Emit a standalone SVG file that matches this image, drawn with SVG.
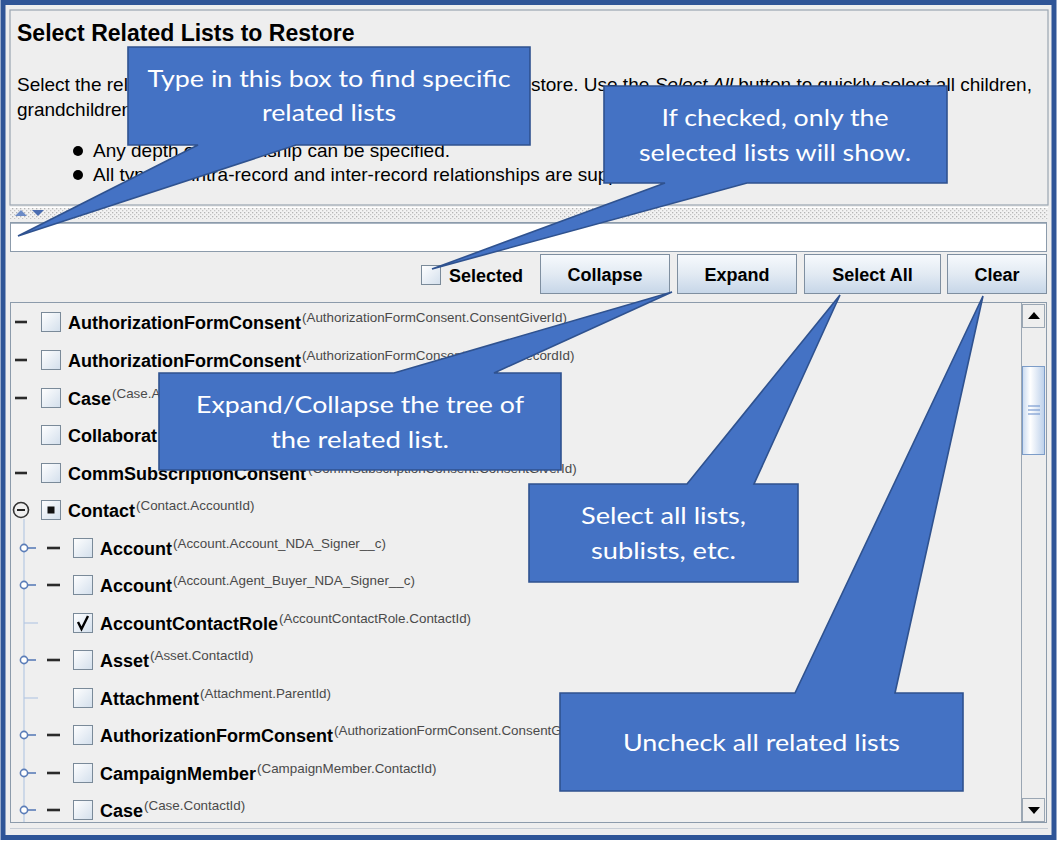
<svg xmlns="http://www.w3.org/2000/svg" xmlns:xlink="http://www.w3.org/1999/xlink" width="1060" height="843" viewBox="0 0 1060 843">
<defs>
<style>
.ui{font-family:"Liberation Sans",Arial,sans-serif;fill:#000}
.title{font-weight:bold;font-size:23px}
.body{font-size:19px}
.lbl{font-weight:bold;font-size:18px}
.sup{font-weight:normal;font-size:13.4px;fill:#4a4a4a}
.btn{fill:url(#btng);stroke:#7F8FA0;stroke-width:1}
.btxt{font-weight:bold;font-size:18px;text-anchor:middle}
.dash{stroke:#2a2a2a;stroke-width:2.6}
.tl{stroke:#B5C8E2;stroke-width:1.2;fill:none}
.hd{stroke:#5B7DB8;stroke-width:1.6;fill:#fff}
.co{fill:#4472C4;stroke:#2F528F;stroke-width:1.6}
.cot{font-family:Lato,"Open Sans","Liberation Sans",sans-serif;font-size:24px;fill:#fff;text-anchor:middle}
</style>
<linearGradient id="btng" x1="0" y1="0" x2="0" y2="1">
<stop offset="0" stop-color="#F7FAFD"/><stop offset="0.5" stop-color="#E2EAF3"/><stop offset="1" stop-color="#C6D6E8"/>
</linearGradient>
<linearGradient id="cbg" x1="0" y1="0" x2="1" y2="1">
<stop offset="0" stop-color="#FFFFFF"/><stop offset="1" stop-color="#D3DFEC"/>
</linearGradient>
<linearGradient id="thumbg" x1="0" y1="0" x2="1" y2="0">
<stop offset="0" stop-color="#C9DAF0"/><stop offset="0.35" stop-color="#FFFFFF"/><stop offset="1" stop-color="#BCD0EA"/>
</linearGradient>
<pattern id="dots" width="4" height="4" patternUnits="userSpaceOnUse">
<rect width="4" height="4" fill="#F2F2F2"/><rect x="0" y="0" width="1.3" height="1.3" fill="#B4B4B4"/><rect x="2" y="2" width="1.3" height="1.3" fill="#C4C4C4"/>
</pattern>
<g id="cb"><rect x="0.5" y="0.5" width="19" height="19" fill="url(#cbg)" stroke="#7A8A99"/></g>
<clipPath id="treeclip"><rect x="11" y="304" width="1010" height="518"/></clipPath>
</defs>

<rect x="0" y="0" width="1060" height="843" fill="#FFFFFF"/>
<rect x="3" y="2.5" width="1051" height="835" fill="#EEEEEE" stroke="#2F5597" stroke-width="5"/>

<g id="header" class="ui">
<rect x="10" y="10" width="1038" height="195" fill="#EEEEEE" stroke="#9AA5B1" stroke-width="1.2"/>
<text x="17" y="41" class="ui title">Select Related Lists to Restore</text>
<text x="17" y="91" class="ui body">Select the rel</text>
<text x="531" y="91" class="ui body">store. Use the <tspan font-style="italic">Select All</tspan> button to quickly select all children,</text>
<text x="17" y="116" class="ui body">grandchildren</text>
<circle cx="78" cy="151" r="5" fill="#000"/>
<text x="93" y="157" class="ui body">Any depth of relationship can be specified.</text>
<circle cx="78" cy="175" r="5" fill="#000"/>
<text x="93" y="181" class="ui body">All types of intra-record and inter-record relationships are supported.</text>
</g>

<g id="splitter">
<rect x="10" y="207" width="1038" height="12" fill="url(#dots)"/>
<line x1="10" y1="207.5" x2="1048" y2="207.5" stroke="#FFFFFF"/>
<path d="M15,216 L21,210 L27,216 Z" fill="#6A8AC6"/>
<path d="M32,210 L44,210 L38,216 Z" fill="#4A6CB0"/>
</g>

<g id="search-box">
<rect x="10.5" y="222.5" width="1036" height="29" fill="#FFFFFF" stroke="#8C9BAB"/>
<line x1="11" y1="223.5" x2="1046" y2="223.5" stroke="#A9B5C2"/>
</g>

<g id="toolbar" class="ui">
<g id="selected-check">
<use xlink:href="#cb" x="421" y="265"/>
<text x="449" y="282" class="ui lbl">Selected</text>
</g>
<g id="btn-collapse"><rect x="540.5" y="254.5" width="129" height="39" class="btn"/><text x="605" y="281" class="ui btxt">Collapse</text></g>
<g id="btn-expand"><rect x="677.5" y="254.5" width="119" height="39" class="btn"/><text x="737" y="281" class="ui btxt">Expand</text></g>
<g id="btn-selectall"><rect x="804.5" y="254.5" width="136" height="39" class="btn"/><text x="872.5" y="281" class="ui btxt">Select All</text></g>
<g id="btn-clear"><rect x="947.5" y="254.5" width="99" height="39" class="btn"/><text x="997" y="281" class="ui btxt">Clear</text></g>
</g>

<g id="tree-panel">
<rect x="10.5" y="302.5" width="1036" height="520" fill="#EFEFEF" stroke="#8C9BAB"/>
<line x1="10" y1="828.5" x2="1048" y2="828.5" stroke="#C8CED6"/>
<g id="scrollbar">
<rect x="1022" y="303" width="24" height="519" fill="#EEEEEE"/>
<line x1="1021.5" y1="303" x2="1021.5" y2="822" stroke="#9AA6B3"/>
<rect x="1022.5" y="304.5" width="22" height="23" fill="#EEEEEE" stroke="#9AA6B3"/>
<path d="M1028,319 L1034,312 L1040,319 Z" fill="#000"/>
<rect x="1022.5" y="366.5" width="22" height="88" fill="url(#thumbg)" stroke="#7C9CC8"/>
<g stroke="#7B9BD1" stroke-width="1.2"><line x1="1028" y1="406" x2="1040" y2="406"/><line x1="1028" y1="410" x2="1040" y2="410"/><line x1="1028" y1="414" x2="1040" y2="414"/></g>
<rect x="1022.5" y="798.5" width="22" height="23" fill="#EEEEEE" stroke="#9AA6B3"/>
<path d="M1028,807 L1040,807 L1034,814 Z" fill="#000"/>
</g>
</g>

<g id="connectors" clip-path="url(#treeclip)">
<line x1="24" y1="519" x2="24" y2="823" class="tl"/>
<line x1="24" y1="623" x2="38" y2="623" class="tl"/>
<line x1="24" y1="698" x2="38" y2="698" class="tl"/>
<g id="handles">
<line x1="27" y1="548" x2="36" y2="548" stroke="#5B7DB8" stroke-width="1.6"/><circle cx="24" cy="548" r="3.6" class="hd"/>
<line x1="27" y1="585" x2="36" y2="585" stroke="#5B7DB8" stroke-width="1.6"/><circle cx="24" cy="585" r="3.6" class="hd"/>
<line x1="27" y1="660" x2="36" y2="660" stroke="#5B7DB8" stroke-width="1.6"/><circle cx="24" cy="660" r="3.6" class="hd"/>
<line x1="27" y1="735" x2="36" y2="735" stroke="#5B7DB8" stroke-width="1.6"/><circle cx="24" cy="735" r="3.6" class="hd"/>
<line x1="27" y1="773" x2="36" y2="773" stroke="#5B7DB8" stroke-width="1.6"/><circle cx="24" cy="773" r="3.6" class="hd"/>
<line x1="27" y1="810" x2="36" y2="810" stroke="#5B7DB8" stroke-width="1.6"/><circle cx="24" cy="810" r="3.6" class="hd"/>
</g>
</g>

<g id="tree-rows" clip-path="url(#treeclip)">
<g id="row-afc1"><line x1="15" y1="322" x2="27" y2="322" class="dash"/><use xlink:href="#cb" x="41" y="312"/><text x="68" y="329" class="ui lbl">AuthorizationFormConsent<tspan class="sup" dx="1" dy="-7">(AuthorizationFormConsent.ConsentGiverId)</tspan></text></g>
<g id="row-afc2"><line x1="15" y1="360" x2="27" y2="360" class="dash"/><use xlink:href="#cb" x="41" y="350"/><text x="68" y="367" class="ui lbl">AuthorizationFormConsent<tspan class="sup" dx="1" dy="-7">(AuthorizationFormConsent.RelatedRecordId)</tspan></text></g>
<g id="row-case"><line x1="15" y1="398" x2="27" y2="398" class="dash"/><use xlink:href="#cb" x="41" y="388"/><text x="68" y="405" class="ui lbl">Case<tspan class="sup" dx="1" dy="-7">(Case.Ac</tspan></text></g>
<g id="row-collab"><use xlink:href="#cb" x="41" y="425"/><text x="68" y="442" class="ui lbl">Collaborat</text></g>
<g id="row-comm"><line x1="15" y1="473" x2="27" y2="473" class="dash"/><use xlink:href="#cb" x="41" y="463"/><text x="68" y="480" class="ui lbl">CommSubscriptionConsent<tspan class="sup" dx="2" dy="-7">(CommSubscriptionConsent.ConsentGiverId)</tspan></text></g>
<g id="row-contact"><circle cx="21" cy="510" r="7.5" fill="#EFEFEF" stroke="#333" stroke-width="1.6"/><line x1="17" y1="510" x2="25" y2="510" stroke="#222" stroke-width="2"/><use xlink:href="#cb" x="41" y="500"/><rect x="47.5" y="506.5" width="7" height="7" fill="#111"/><text x="68" y="517" class="ui lbl">Contact<tspan class="sup" dx="1" dy="-7">(Contact.AccountId)</tspan></text></g>
<g id="row-account1"><line x1="47" y1="548" x2="60" y2="548" class="dash"/><use xlink:href="#cb" x="73" y="538"/><text x="100" y="555" class="ui lbl">Account<tspan class="sup" dx="1" dy="-7">(Account.Account_NDA_Signer__c)</tspan></text></g>
<g id="row-account2"><line x1="47" y1="585" x2="60" y2="585" class="dash"/><use xlink:href="#cb" x="73" y="575"/><text x="100" y="592" class="ui lbl">Account<tspan class="sup" dx="1" dy="-7">(Account.Agent_Buyer_NDA_Signer__c)</tspan></text></g>
<g id="row-acr"><use xlink:href="#cb" x="73" y="613"/><path d="M78,622 L81.5,629 L88,616" fill="none" stroke="#000" stroke-width="2.4"/><text x="100" y="630" class="ui lbl">AccountContactRole<tspan class="sup" dx="1" dy="-7">(AccountContactRole.ContactId)</tspan></text></g>
<g id="row-asset"><line x1="47" y1="660" x2="60" y2="660" class="dash"/><use xlink:href="#cb" x="73" y="650"/><text x="100" y="667" class="ui lbl">Asset<tspan class="sup" dx="1" dy="-7">(Asset.ContactId)</tspan></text></g>
<g id="row-attachment"><use xlink:href="#cb" x="73" y="688"/><text x="100" y="705" class="ui lbl">Attachment<tspan class="sup" dx="1" dy="-7">(Attachment.ParentId)</tspan></text></g>
<g id="row-afc3"><line x1="47" y1="735" x2="60" y2="735" class="dash"/><use xlink:href="#cb" x="73" y="725"/><text x="100" y="742" class="ui lbl">AuthorizationFormConsent<tspan class="sup" dx="1" dy="-7">(AuthorizationFormConsent.ConsentGiverId)</tspan></text></g>
<g id="row-campaign"><line x1="47" y1="773" x2="60" y2="773" class="dash"/><use xlink:href="#cb" x="73" y="763"/><text x="100" y="780" class="ui lbl">CampaignMember<tspan class="sup" dx="1" dy="-7">(CampaignMember.ContactId)</tspan></text></g>
<g id="row-case2"><line x1="47" y1="810" x2="60" y2="810" class="dash"/><use xlink:href="#cb" x="73" y="800"/><text x="100" y="817" class="ui lbl">Case<tspan class="sup" dx="1" dy="-7">(Case.ContactId)</tspan></text></g>
</g>

<g id="callout-search">
<path class="co" d="M128,47 H530 V145 H296 L18,236 L198,145 H128 Z"/>
<text x="329" y="87" class="cot" textLength="363" lengthAdjust="spacingAndGlyphs">Type in this box to find specific</text>
<text x="329" y="121" class="cot" textLength="134" lengthAdjust="spacingAndGlyphs">related lists</text>
</g>
<g id="callout-selected">
<path class="co" d="M604,86 H947 V183 H747 L432,269 L665,183 H604 Z"/>
<text x="775" y="126" class="cot" textLength="227" lengthAdjust="spacingAndGlyphs">If checked, only the</text>
<text x="775" y="161" class="cot" textLength="272" lengthAdjust="spacingAndGlyphs">selected lists will show.</text>
</g>
<g id="callout-expand">
<path class="co" d="M159,373 H394 L672,292 L494,373 H561 V470 H159 Z"/>
<text x="360" y="413" class="cot" textLength="328" lengthAdjust="spacingAndGlyphs">Expand/Collapse the tree of</text>
<text x="360" y="448" class="cot" textLength="178" lengthAdjust="spacingAndGlyphs">the related list.</text>
</g>
<g id="callout-selectall">
<path class="co" d="M529,484 H687 L840,295 L754,484 H798 V582 H529 Z"/>
<text x="663.5" y="524" class="cot" textLength="165" lengthAdjust="spacingAndGlyphs">Select all lists,</text>
<text x="663.5" y="559" class="cot" textLength="145" lengthAdjust="spacingAndGlyphs">sublists, etc.</text>
</g>
<g id="callout-clear">
<path class="co" d="M560,693 H795 L983,296 L895,693 H963 V791 H560 Z"/>
<text x="761.5" y="751" class="cot" textLength="277" lengthAdjust="spacingAndGlyphs">Uncheck all related lists</text>
</g>
</svg>
